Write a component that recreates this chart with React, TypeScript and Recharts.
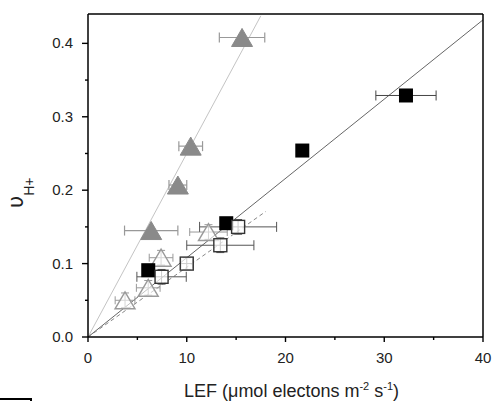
import React from 'react';
import { ScatterChart, Scatter, XAxis, YAxis, ErrorBar, ReferenceLine } from 'recharts';

// ---- data ----
const filledTriX = [6.4, 9.1, 10.4, 15.6];
const filledTriY = [0.145, 0.207, 0.26, 0.408];
const filledTriXErr = [2.7, 0.9, 1.2, 2.3];
const filledTriYErr = [0.012, 0.01, 0.012, 0.012];

const blackSqX = [6.1, 14.0, 21.7, 32.2];
const blackSqY = [0.091, 0.155, 0.254, 0.329];
const blackSqXErr = [0, 0, 0, 3.05];

const openTriX = [3.75, 6.1, 7.4, 12.2];
const openTriY = [0.05, 0.067, 0.108, 0.143];
const openTriXErr = [1.0, 1.2, 1.2, 1.9];
const openTriYErr = [0.01, 0.01, 0.01, 0.01];

const openSqX = [7.45, 10.0, 13.4, 15.2];
const openSqY = [0.082, 0.1, 0.125, 0.15];
const openSqXErr = [2.5, 0.6, 3.4, 3.9];
const openSqYErr = [0.01, 0.008, 0.01, 0.01];

// fitted lines through origin: [end x, slope]
const filledTriFit = { xEnd: 17.5, slope: 0.025 };
const blackSqFit = { xEnd: 40, slope: 0.0108 };
const openFit = { xEnd: 18, slope: 0.0095 };

const xTicks = [0, 5, 10, 15, 20, 25, 30, 35, 40];
const yTicks = [0, 0.05, 0.1, 0.15, 0.2, 0.25, 0.3, 0.35, 0.4];

const build = (xs: number[], ys: number[], xe?: number[], ye?: number[]) =>
  xs.map((x, i) => ({ x, y: ys[i], xerr: xe ? xe[i] : 0, yerr: ye ? ye[i] : 0 }));

const filledTri = build(filledTriX, filledTriY, filledTriXErr, filledTriYErr);
const blackSq = build(blackSqX, blackSqY, blackSqXErr);
const openTri = build(openTriX, openTriY, openTriXErr, openTriYErr);
const openSq = build(openSqX, openSqY, openSqXErr, openSqYErr);

const FONT = 'Liberation Sans, Arial, Helvetica, sans-serif';

const isMajorX = (v: number) => Math.round(v) % 10 === 0;
const isMajorY = (v: number) => Math.round(v * 100) % 10 === 0;

const BottomTick = (p: any) => {
  const { x, y, payload } = p;
  const major = isMajorX(payload.value);
  return (
    <g>
      <line x1={x} x2={x} y1={y} y2={y + (major ? 5 : 3)} stroke="#000" strokeWidth={1.4} />
      {major && (
        <text x={x} y={y + 26} textAnchor="middle" fontSize={15} fill="#222" fontFamily={FONT}>
          {payload.value}
        </text>
      )}
    </g>
  );
};

const TopTick = (p: any) => {
  const { x, y, payload } = p;
  const major = isMajorX(payload.value);
  return <line x1={x} x2={x} y1={y} y2={y + (major ? 5 : 3)} stroke="#000" strokeWidth={1.4} />;
};

const LeftTick = (p: any) => {
  const { x, y, payload } = p;
  const major = isMajorY(payload.value);
  return (
    <g>
      <line x1={x} x2={x - (major ? 6 : 3)} y1={y} y2={y} stroke="#000" strokeWidth={1.4} />
      {major && (
        <text x={x - 15} y={y + 5} textAnchor="end" fontSize={15} fill="#222" fontFamily={FONT}>
          {payload.value.toFixed(1)}
        </text>
      )}
    </g>
  );
};

const RightTick = (p: any) => {
  const { x, y, payload } = p;
  const major = isMajorY(payload.value);
  return <line x1={x} x2={x - (major ? 6 : 3)} y1={y} y2={y} stroke="#000" strokeWidth={1.4} />;
};

const FilledTriangle = (p: any) => {
  const { cx, cy } = p;
  const w = 21, h = 18;
  return (
    <polygon
      points={`${cx},${cy - h / 2} ${cx - w / 2},${cy + h / 2} ${cx + w / 2},${cy + h / 2}`}
      fill="#8a8a8a"
      stroke="#8a8a8a"
    />
  );
};

const OpenTriangle = (p: any) => {
  const { cx, cy } = p;
  const w = 20, h = 17;
  return (
    <polygon
      points={`${cx},${cy - h / 2} ${cx - w / 2},${cy + h / 2} ${cx + w / 2},${cy + h / 2}`}
      fill="rgba(255,255,255,0.6)"
      stroke="#9a9a9a"
      strokeWidth={1.4}
    />
  );
};

const BlackSquare = (p: any) => {
  const { cx, cy } = p;
  const s = 14;
  return <rect x={cx - s / 2} y={cy - s / 2} width={s} height={s} fill="#000" />;
};

const OpenSquare = (p: any) => {
  const { cx, cy } = p;
  const s = 13;
  return (
    <rect x={cx - s / 2} y={cy - s / 2} width={s} height={s} fill="rgba(255,255,255,0.7)" stroke="#333" strokeWidth={1.4} />
  );
};

const YTitle = () => (
  <g transform="translate(23,208) rotate(-90)">
    <text x={0} y={0} fontSize={21} fill="#222" fontFamily="DejaVu Sans, sans-serif">
      υ
      <tspan dy={11} fontSize={14} fontFamily={FONT}>H+</tspan>
    </text>
  </g>
);

const XTitle = (p: any) => {
  const vb = p.viewBox || { x: 88, y: 337, width: 395 };
  const cx = vb.x + vb.width / 2 + 6;
  const y = vb.y + 60;
  return (
    <text x={cx} y={y} textAnchor="middle" fontSize={18} fill="#222" fontFamily={FONT}>
      LEF (μmol electons m
      <tspan dy={-7} fontSize={11}>-2</tspan>
      <tspan dy={7}> s</tspan>
      <tspan dy={-7} fontSize={11}>-1</tspan>
      <tspan dy={7}>)</tspan>
    </text>
  );
};

export default function App() {
  return (
    <div style={{ position: 'absolute', left: 0, top: 0, width: 495, height: 401, background: '#fff' }}>
      <ScatterChart width={495} height={401} margin={{ top: 4, right: 2, bottom: 14, left: 28 }}>
        <XAxis
          type="number"
          dataKey="x"
          domain={[0, 40]}
          ticks={xTicks}
          interval={0}
          tickSize={0}
          tickMargin={0}
          tickLine={false}
          tick={BottomTick}
          height={50}
          axisLine={{ stroke: '#000', strokeWidth: 1.5 }}
          label={{ content: XTitle }}
        />
        <XAxis
          xAxisId="top"
          orientation="top"
          type="number"
          domain={[0, 40]}
          ticks={xTicks}
          interval={0}
          tickSize={0}
          tickMargin={0}
          tickLine={false}
          tick={TopTick}
          height={10}
          axisLine={{ stroke: '#000', strokeWidth: 1.5 }}
        />
        <YAxis
          type="number"
          dataKey="y"
          domain={[0, 0.44]}
          ticks={yTicks}
          interval={0}
          tickSize={0}
          tickMargin={0}
          tickLine={false}
          tick={LeftTick}
          width={60}
          axisLine={{ stroke: '#000', strokeWidth: 1.5 }}
          label={{ content: YTitle }}
        />
        <YAxis
          yAxisId="right"
          orientation="right"
          type="number"
          domain={[0, 0.44]}
          ticks={yTicks}
          interval={0}
          tickSize={0}
          tickMargin={0}
          tickLine={false}
          tick={RightTick}
          width={10}
          axisLine={{ stroke: '#000', strokeWidth: 1.5 }}
        />
        <ReferenceLine
          segment={[{ x: 0, y: 0 }, { x: filledTriFit.xEnd, y: filledTriFit.xEnd * filledTriFit.slope }]}
          stroke="#c4c4c4"
          strokeWidth={1}
          ifOverflow="visible"
        />
        <ReferenceLine
          segment={[{ x: 0, y: 0 }, { x: blackSqFit.xEnd, y: blackSqFit.xEnd * blackSqFit.slope }]}
          stroke="#666"
          strokeWidth={1}
          ifOverflow="visible"
        />
        <ReferenceLine
          segment={[{ x: 0, y: 0 }, { x: openFit.xEnd, y: openFit.xEnd * openFit.slope }]}
          stroke="#888"
          strokeWidth={1}
          strokeDasharray="4 3"
          ifOverflow="visible"
        />
        <Scatter data={openTri} shape={OpenTriangle} isAnimationActive={false}>
          <ErrorBar dataKey="xerr" direction="x" width={4} stroke="#999" strokeWidth={1} />
          <ErrorBar dataKey="yerr" direction="y" width={4} stroke="#999" strokeWidth={1} />
        </Scatter>
        <Scatter data={blackSq} shape={BlackSquare} isAnimationActive={false}>
          <ErrorBar dataKey="xerr" direction="x" width={5} stroke="#444" strokeWidth={1} />
        </Scatter>
        <Scatter data={openSq} shape={OpenSquare} isAnimationActive={false}>
          <ErrorBar dataKey="xerr" direction="x" width={5} stroke="#555" strokeWidth={1} />
          <ErrorBar dataKey="yerr" direction="y" width={4} stroke="#555" strokeWidth={1} />
        </Scatter>
        <Scatter data={filledTri} shape={FilledTriangle} isAnimationActive={false}>
          <ErrorBar dataKey="xerr" direction="x" width={5} stroke="#999" strokeWidth={1.2} />
          <ErrorBar dataKey="yerr" direction="y" width={0} stroke="#999" strokeWidth={1.2} />
        </Scatter>
      </ScatterChart>
      <div
        style={{
          position: 'absolute',
          left: 0,
          top: 398,
          width: 32,
          height: 3,
          boxSizing: 'border-box',
          borderTop: '2px solid #000',
          borderRight: '2px solid #000',
        }}
      />
    </div>
  );
}
